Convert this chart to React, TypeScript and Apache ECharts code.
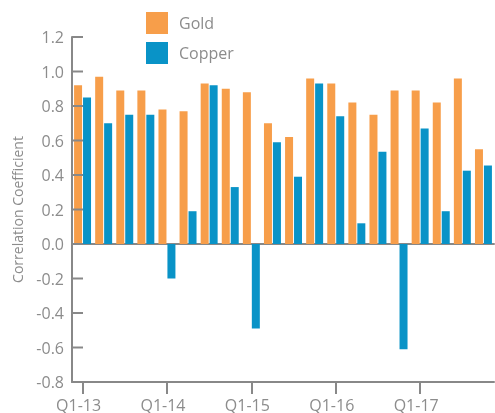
import React, { useEffect, useRef } from "react";
import * as echarts from "echarts";

const categories = [
  "Q1-13", "Q2-13", "Q3-13", "Q4-13",
  "Q1-14", "Q2-14", "Q3-14", "Q4-14",
  "Q1-15", "Q2-15", "Q3-15", "Q4-15",
  "Q1-16", "Q2-16", "Q3-16", "Q4-16",
  "Q1-17", "Q2-17", "Q3-17", "Q4-17",
];

const gold = [
  0.92, 0.97, 0.89, 0.89, 0.78, 0.77, 0.93, 0.9, 0.88, 0.7,
  0.62, 0.96, 0.93, 0.82, 0.75, 0.89, 0.89, 0.82, 0.96, 0.55,
];

const copper = [
  0.85, 0.7, 0.75, 0.75, -0.2, 0.19, 0.92, 0.33, -0.49, 0.59,
  0.39, 0.93, 0.74, 0.12, 0.535, -0.61, 0.67, 0.19, 0.425, 0.455,
];

const yTicks = [-0.8, -0.6, -0.4, -0.2, 0, 0.2, 0.4, 0.6, 0.8, 1.0, 1.2];

const GRAY = "#888888";
const TEXT = "#8c8c8c";
const FONT = "'Open Sans', 'Noto Sans', sans-serif";

export default function App() {
  const ref = useRef<HTMLDivElement>(null);

  useEffect(() => {
    if (!ref.current) return;
    const chart = echarts.init(ref.current, undefined, { renderer: "svg" });
    chart.setOption({
      animation: false,
      textStyle: { fontFamily: FONT },
      legend: {
        orient: "vertical",
        left: 146,
        top: 12,
        padding: 0,
        itemWidth: 22,
        itemHeight: 22,
        itemGap: 8,
        icon: "rect",
        textStyle: { fontSize: 16, color: TEXT, fontFamily: FONT, padding: [0, 0, 0, 6] },
        data: ["Gold", "Copper"],
      },
      grid: { left: 72, right: 1, top: 37, bottom: 30, containLabel: false },
      xAxis: [
        {
          type: "category",
          data: categories,
          position: "bottom",
          axisLine: { onZero: false, lineStyle: { color: GRAY, width: 2 } },
          axisTick: {
            show: true,
            interval: 3,
            alignWithLabel: true,
            length: 12,
            lineStyle: { color: GRAY, width: 2 },
          },
          axisLabel: {
            interval: 3,
            fontSize: 16,
            color: TEXT,
            fontFamily: FONT,
            margin: 15,
            padding: [0, 8, 0, 0],
          },
        },
        {
          type: "category",
          data: categories,
          position: "bottom",
          axisLine: { onZero: true, onZeroAxisIndex: 0, lineStyle: { color: GRAY, width: 2 } },
          axisTick: { show: false },
          axisLabel: { show: false },
        },
      ],
      yAxis: {
        type: "value",
        min: -0.8,
        max: 1.2,
        interval: 0.2,
        name: "Correlation Coefficient",
        nameLocation: "middle",
        nameGap: 48,
        nameTextStyle: { fontSize: 14, color: TEXT, fontFamily: FONT },
        axisLine: { show: true, onZero: false, lineStyle: { color: GRAY, width: 2 } },
        axisTick: { show: false },
        splitLine: { show: false },
        axisLabel: {
          fontSize: 16,
          color: TEXT,
          fontFamily: FONT,
          margin: 8,
          formatter: (v: number) => v.toFixed(1),
        },
      },
      series: [
        {
          name: "Gold",
          type: "bar",
          data: gold,
          barWidth: 8,
          barGap: "12%",
          itemStyle: { color: "#F79E4A" },
        },
        {
          name: "Copper",
          type: "bar",
          data: copper,
          barWidth: 8,
          barGap: "12%",
          itemStyle: { color: "#0993C7" },
        },
        {
          name: "yTicks",
          type: "custom",
          z: 10,
          silent: true,
          clip: false,
          data: yTicks.map((v) => [0, v]),
          encode: { x: 0, y: 1 },
          renderItem: (params: any, api: any) => {
            const p = api.coord([0, api.value(1)]);
            const x0 = params.coordSys.x;
            return {
              type: "line",
              shape: { x1: x0, y1: p[1], x2: x0 + 11, y2: p[1] },
              style: { stroke: GRAY, lineWidth: 2 },
            };
          },
        },
      ],
    });
    return () => chart.dispose();
  }, []);

  return (
    <div
      ref={ref}
      style={{ position: "fixed", left: 0, top: 0, width: 495, height: 413 }}
    />
  );
}
